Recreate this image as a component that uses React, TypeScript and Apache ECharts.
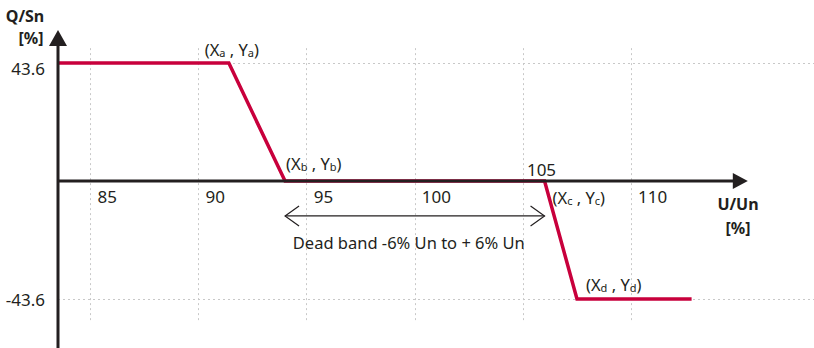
import React, { useEffect, useRef } from "react";
import * as echarts from "echarts";

// Axis ranges (value space)
const xMin = 83.5;
const xMax = 118.46;
const yMin = -61.7;
const yMax = 55.8;
const xAxisEnd = 115.4;

// Tick labels and grid values
const xTickValues = [85, 90, 95, 100, 110];
const xRaisedTick = 105;
const xGridValues = [85, 90, 95, 100, 105, 110];
const yTickValues = [43.6, -43.6];
const gridTopValue = 49.1;
const gridBottomValue = -51.7;

// Q(U) curve
const curveX = [83.5, 91.4, 94, 106, 107.5, 112.8];
const curveY = [43.6, 43.6, 0, 0, -43.6, -43.6];

// Dead band
const deadBandFrom = 94;
const deadBandTo = 106;
const deadBandLevel = -12.9;
const deadBandText = "Dead band -6% Un to + 6% Un";

// Point labels
const pointNames = ["a", "b", "c", "d"];

const INK = "#231f20";
const RED = "#c8003c";
const GRID = "#c8c8c8";
const FONT = "'Noto Sans', 'Open Sans', sans-serif";
const HEIGHT = 348;

export default function App() {
  const ref = useRef<HTMLDivElement>(null);

  useEffect(() => {
    if (!ref.current) return;
    const chart = echarts.init(ref.current, undefined, { renderer: "svg" });

    const option: any = {
      animation: false,
      grid: { left: 58, right: 0, top: 30, bottom: 0, containLabel: false, outerBoundsMode: "none" },
      xAxis: {
        type: "value",
        min: xMin,
        max: xMax,
        position: "bottom",
        offset: 0,
        axisLine: { show: false, onZero: false },
        axisTick: { show: false },
        splitLine: { show: false },
        axisLabel: {
          customValues: xTickValues,
          align: "left",
          padding: [0, 0, 0, 7],
          margin: 7,
          fontSize: 17,
          fontFamily: FONT,
          color: INK,
        },
      },
      yAxis: {
        type: "value",
        min: yMin,
        max: yMax,
        axisLine: { show: false, onZero: false },
        axisTick: { show: false },
        splitLine: { show: false },
        axisLabel: {
          customValues: yTickValues,
          margin: 13,
          fontSize: 17,
          fontFamily: FONT,
          color: INK,
          formatter: (v: number) => (v > 0 ? "{lo|" + v + "}" : "{n|" + v + "}"),
          rich: {
            lo: { fontSize: 17, fontFamily: FONT, color: INK, padding: [10, 0, 0, 0] },
            n: { fontSize: 17, fontFamily: FONT, color: INK },
          },
        },
      },
      series: [
        {
          type: "line",
          data: [],
          z: 1,
          silent: true,
          markLine: {
            silent: true,
            symbol: "none",
            animation: false,
            label: { show: false },
            lineStyle: { color: GRID, type: [2, 3], width: 1 },
            data: [
              ...xGridValues.map((v) => [
                { coord: [v, gridTopValue] },
                { coord: [v, gridBottomValue] },
              ]),
              ...yTickValues.map((v) => [
                { coord: [xMin, v] },
                { coord: [xMax, v] },
              ]),
            ],
          },
        },
        {
          type: "line",
          z: 5,
          data: curveX.map((x, i) => [x, curveY[i]]),
          showSymbol: false,
          symbol: "none",
          lineStyle: { color: RED, width: 3.5, join: "miter" },
        },
      ],
    };
    chart.setOption(option);

    const px = (x: number, y: number) =>
      chart.convertToPixel({ gridIndex: 0 }, [x, y]) as number[];

    const [ox, oy] = px(xMin, 0);
    const [, topY] = px(xMin, yMax);
    const [, bottomY] = px(xMin, yMin);
    const [endX] = px(xAxisEnd, 0);
    const [bx1, by] = px(deadBandFrom, deadBandLevel);
    const [bx2] = px(deadBandTo, deadBandLevel);

    const txt = (text: string, x: number, y: number, align: string, extra: any = {}) => ({
      type: "text",
      z: 20,
      silent: true,
      style: {
        text,
        x,
        y,
        align,
        textAlign: align,
        verticalAlign: "middle",
        textVerticalAlign: "middle",
        fontSize: 16.5,
        fontFamily: FONT,
        fill: INK,
        ...extra,
      },
    });

    const subRich = {
      s: { fontSize: 11, lineHeight: 15, verticalAlign: "bottom", fontFamily: FONT, fill: INK, color: INK },
    };
    const pLabel = (n: string) => "(X{s|" + n + "} , Y{s|" + n + "})";

    const [ax, ay] = px(curveX[1], curveY[1]);
    const [bxp, byp] = px(curveX[2], curveY[2]);
    const [cx, cy] = px(curveX[3], curveY[3]);
    const [dx, dy] = px(curveX[4], curveY[4]);
    const [t105x, t105y] = px(xRaisedTick, 0);

    const headLen = 14;
    const headHalf = 10;

    chart.setOption({
      // move the x axis (and its labels) onto the zero line
      xAxis: { offset: oy - bottomY },
      graphic: [
        // y axis
        {
          type: "line",
          z: 10,
          shape: { x1: ox, y1: topY + 12, x2: ox, y2: HEIGHT },
          style: { stroke: INK, lineWidth: 3 },
        },
        {
          type: "polygon",
          z: 10,
          shape: { points: [[ox, topY], [ox - 9, topY + 16], [ox + 9, topY + 16]] },
          style: { fill: INK },
        },
        // x axis
        {
          type: "line",
          z: 10,
          shape: { x1: ox, y1: oy, x2: endX - 12, y2: oy },
          style: { stroke: INK, lineWidth: 3 },
        },
        {
          type: "polygon",
          z: 10,
          shape: { points: [[endX, oy], [endX - 15, oy - 8], [endX - 15, oy + 8]] },
          style: { fill: INK },
        },
        // dead band arrow
        {
          type: "line",
          z: 10,
          shape: { x1: bx1, y1: by, x2: bx2, y2: by },
          style: { stroke: INK, lineWidth: 1.2 },
        },
        {
          type: "polyline",
          z: 10,
          shape: { points: [[bx1 + headLen, by - headHalf], [bx1, by], [bx1 + headLen, by + headHalf]] },
          style: { stroke: INK, lineWidth: 1.2, fill: "none" },
        },
        {
          type: "polyline",
          z: 10,
          shape: { points: [[bx2 - headLen, by - headHalf], [bx2, by], [bx2 - headLen, by + headHalf]] },
          style: { stroke: INK, lineWidth: 1.2, fill: "none" },
        },
        txt(deadBandText, (bx1 + bx2) / 2 - 6, by + 27, "center"),
        // axis titles
        txt("Q/Sn", 25, 16, "center", { fontSize: 16, fontWeight: "bold" }),
        txt("[%]", 31, 38, "center", { fontSize: 16, fontWeight: "bold" }),
        txt("U/Un", 738, 204, "center", { fontSize: 16, fontWeight: "bold" }),
        txt("[%]", 738, 228, "center", { fontSize: 16, fontWeight: "bold" }),
        // raised tick label
        txt(String(xRaisedTick), t105x + 4, t105y - 12, "left", { fontSize: 17 }),
        // point labels
        txt(pLabel(pointNames[0]), ax + 3, ay - 14, "center", { rich: subRich }),
        txt(pLabel(pointNames[1]), bxp + 1, byp - 18, "left", { rich: subRich }),
        txt(pLabel(pointNames[2]), cx + 8, cy + 16, "left", { rich: subRich }),
        txt(pLabel(pointNames[3]), dx + 9, dy - 15, "left", { rich: subRich }),
      ],
    });

    return () => chart.dispose();
  }, []);

  return (
    <div
      ref={ref}
      style={{ position: "fixed", left: 0, top: 0, width: 814, height: HEIGHT, background: "#fff" }}
    />
  );
}
